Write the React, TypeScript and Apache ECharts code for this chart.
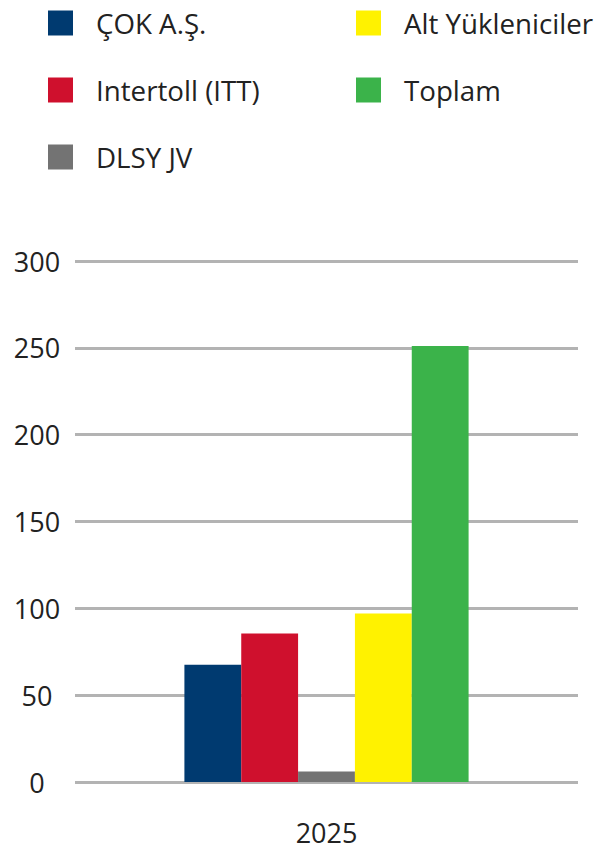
import React, { useEffect, useRef } from "react";
import * as echarts from "echarts";

const categories = ["2025"];
const seriesNames = ["ÇOK A.Ş.", "Intertoll (ITT)", "DLSY JV", "Alt Yükleniciler", "Toplam"];
const seriesValues = [[67.5], [85.5], [6], [97], [251]];
const seriesColors = ["#003a70", "#cf102d", "#737373", "#fff200", "#3bb34a"];
const yTicks = { min: 0, max: 300, interval: 50 };

export default function App() {
  const ref = useRef<HTMLDivElement>(null);
  useEffect(() => {
    if (!ref.current) return;
    const chart = echarts.init(ref.current, null, { renderer: "svg" });
    const font = "'Open Sans', sans-serif";
    const legendText = {
      fontFamily: font,
      fontSize: 27.7,
      color: "#222222",
      lineHeight: 25,
      padding: [0, 0, 0, 18],
    };
    chart.setOption({
      animation: false,
      legend: [
        {
          data: seriesNames.slice(0, 3),
          orient: "vertical",
          left: 48,
          top: 9,
          itemWidth: 25,
          itemHeight: 25,
          itemGap: 39,
          icon: "rect",
          textStyle: legendText,
          padding: 0,
        },
        {
          data: seriesNames.slice(3),
          orient: "vertical",
          left: 356,
          top: 9,
          itemWidth: 25,
          itemHeight: 25,
          itemGap: 39,
          icon: "rect",
          textStyle: legendText,
          padding: 0,
        },
      ],
      grid: { left: 75, right: 20, top: 261, bottom: 69, containLabel: false },
      xAxis: {
        type: "category",
        data: categories,
        axisLine: { show: false },
        axisTick: { show: false },
        axisLabel: { fontFamily: font, fontSize: 27, lineHeight: 24, color: "#222222", margin: 38 },
      },
      yAxis: {
        type: "value",
        min: yTicks.min,
        max: yTicks.max,
        interval: yTicks.interval,
        axisLine: { show: false },
        axisTick: { show: false },
        splitLine: { lineStyle: { color: "#b3b3b3", width: 3 } },
        axisLabel: { fontFamily: font, fontSize: 27, color: "#222222", align: "center", margin: 38 },
      },
      series: seriesNames.map((name, i) => ({
        name,
        type: "bar",
        data: seriesValues[i],
        itemStyle: { color: seriesColors[i] },
        barGap: "0%",
        barCategoryGap: "43.5%",
      })),
    });
    return () => chart.dispose();
  }, []);
  return <div ref={ref} style={{ width: 598, height: 851, position: "absolute", left: 0, top: 0 }} />;
}
